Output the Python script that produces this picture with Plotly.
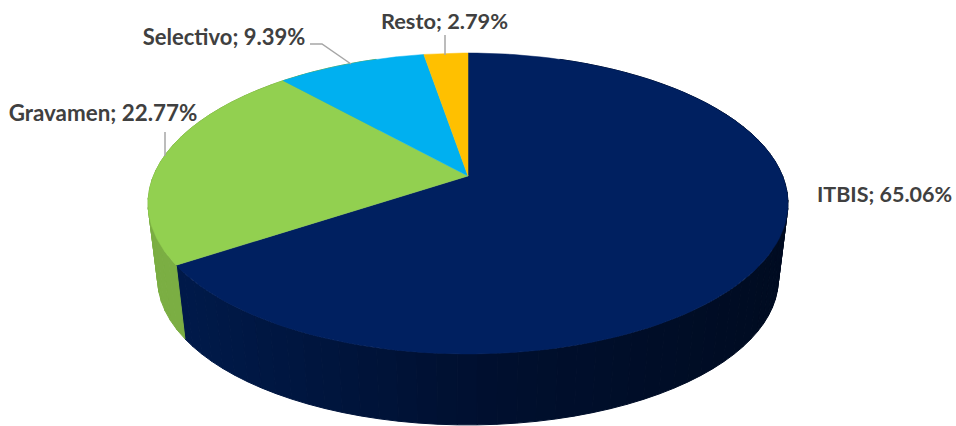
import numpy as np
import plotly.graph_objects as go

labels = ['ITBIS', 'Gravamen', 'Selectivo', 'Resto']
values = [65.06, 22.77, 9.39, 2.79]
colors = ['#002060', '#92D050', '#00B0F0', '#FFC000']
side_left = np.array([0, 26, 74])
side_mid = np.array([0, 16, 48])
side_right = np.array([0, 12, 34])
green_side = '#7BAE43'

# projected disc, everything in page pixels
cx, cy = 468, 176
radius = 314.6
persp = 0.1827
tilt = -113.3
depth_base = 252.3
depth_scale = 0.97
lens = 0.05


def top_point(theta):
    s, v = np.sin(theta), np.cos(theta)
    d = 1 + persp * v
    return cx + radius * s / d, (tilt * v + cy) / d


def bottom_point(theta):
    x, y = top_point(theta)
    return cx + depth_scale * (x - cx), depth_base + depth_scale * (y - cy)


def wall(t0, t1, color):
    ts = np.linspace(t0, t1, 6)
    x0, y0 = top_point(ts)
    x1, y1 = bottom_point(ts[::-1])
    return go.Scatter(
        x=np.r_[x0, x1, x0[0]], y=np.r_[y0, y1, y0[0]],
        mode='lines', fill='toself', fillcolor=color,
        line=dict(color=color, width=1), hoverinfo='skip', showlegend=False,
    )


total = sum(values)
edges = np.r_[0, np.cumsum(values)] / total * 2 * np.pi
edges = edges - lens * np.sin(edges)

fig = go.Figure()

# sides, back to front
steps = np.linspace(edges[1], np.radians(20), 72)
for a, b in zip(steps[:-1], steps[1:]):
    f = min(max((top_point((a + b) / 2)[0] - 180) / 600, 0), 1)
    if f < 0.5:
        rgb = side_left + (side_mid - side_left) * f * 2
    else:
        rgb = side_mid + (side_right - side_mid) * (f - 0.5) * 2
    fig.add_trace(wall(a, b, 'rgb(%d,%d,%d)' % tuple(rgb)))
steps = np.linspace(edges[1], np.radians(340), 30)
for a, b in zip(steps[:-1], steps[1:]):
    fig.add_trace(wall(a, b, green_side))

for i, name in enumerate(labels):
    ts = np.linspace(edges[i], edges[i + 1], 120)
    x, y = top_point(ts)
    fig.add_trace(go.Scatter(
        x=np.r_[cx, x, cx], y=np.r_[cy, y, cy],
        mode='lines', fill='toself', fillcolor=colors[i],
        line=dict(color=colors[i], width=0.5), name=name, showlegend=False,
    ))

# leader lines
for lx, ly in [([310, 322, 351], [44, 44, 64]), ([445, 445], [35, 55]), ([165, 165], [132, 156])]:
    fig.add_trace(go.Scatter(x=lx, y=ly, mode='lines', line=dict(color='#A6A6A6', width=1.5),
                             hoverinfo='skip', showlegend=False))

label_x = [884.5, 103, 224, 444.5]
label_y = [197, 115, 39, 24]
label_size = [21.5, 22.4, 22, 21.8]
fig.add_trace(go.Scatter(
    x=label_x, y=label_y, mode='text',
    text=['%s; %.2f%%' % (n, v) for n, v in zip(labels, values)],
    textposition='middle center', cliponaxis=False, hoverinfo='skip', showlegend=False,
    textfont=dict(family='Lato', size=label_size, color='#404040', weight='bold'),
))

fig.update_xaxes(range=[0, 956], visible=False, fixedrange=True)
fig.update_yaxes(range=[426, 0], visible=False, fixedrange=True)
fig.update_layout(
    width=956, height=426,
    margin=dict(l=0, r=0, t=0, b=0),
    paper_bgcolor='white', plot_bgcolor='white',
    showlegend=False,
)
# drop the default 8px page margin
fig.write_html("out.html", config=dict(displayModeBar=False),
               post_script="document.body.style.margin='0';")
